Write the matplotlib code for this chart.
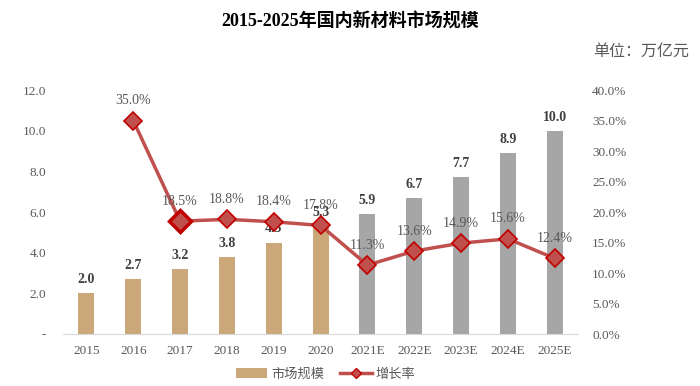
import matplotlib
matplotlib.use("Agg")
import matplotlib.pyplot as plt
from matplotlib.lines import Line2D
from matplotlib.patches import Patch

plt.rcParams['font.family'] = ['Liberation Serif', 'Noto Sans CJK SC', 'DejaVu Sans']

categories = ["2015", "2016", "2017", "2018", "2019", "2020", "2021E", "2022E", "2023E", "2024E", "2025E"]
market = [2.0, 2.7, 3.2, 3.8, 4.5, 5.3, 5.9, 6.7, 7.7, 8.9, 10.0]
growth = [None, 35.0, 18.5, 18.8, 18.4, 17.8, 11.3, 13.6, 14.9, 15.6, 12.4]
left_ticks = [0, 2, 4, 6, 8, 10, 12]
left_labels = ["-", "2.0", "4.0", "6.0", "8.0", "10.0", "12.0"]
right_ticks = [0, 5, 10, 15, 20, 25, 30, 35, 40]

tan = "#CBA879"
gray = "#A6A6A6"
red_line = "#C0504D"
red_edge = "#C00000"
txt = "#595959"

fig = plt.figure(figsize=(7, 3.86), dpi=100)
ax = fig.add_axes([0.09, 0.1347, 0.736, 0.632])
ax2 = ax.twinx()

x = list(range(len(categories)))
colors = [tan if not c.endswith("E") else gray for c in categories]
ax.bar(x, market, width=0.34, color=colors, zorder=2)
for xi, v in zip(x, market):
    ax.text(xi, v + 0.35, f"{v:.1f}", ha="center", va="bottom", fontsize=10,
            fontweight="bold", color="#404040")

ax.set_ylim(0, 12)
ax.set_xlim(-0.5, len(categories) - 0.5)
ax.set_yticks(left_ticks)
ax.set_yticklabels(left_labels, color=txt, fontsize=9.5)
ax.set_xticks(x)
ax.set_xticklabels(categories, color=txt, fontsize=9.5)
ax.tick_params(axis="both", length=0, pad=8)
ax.tick_params(axis="y", pad=12)
for s in ["top", "right", "left"]:
    ax.spines[s].set_visible(False)
ax.spines["bottom"].set_color("#D9D9D9")

gx = [xi for xi, g in zip(x, growth) if g is not None]
gy = [g for g in growth if g is not None]
ax2.plot(gx, gy, color=red_line, lw=2.5, zorder=3)
for xi, g in zip(gx, gy):
    big = (xi == 2)
    ax2.plot(xi, g, marker="D", ms=11 if big else 9, mfc=red_line, mec=red_edge,
             mew=2.5 if big else 1.2, zorder=4)
    ax2.text(xi, g + 2.2, f"{g:.1f}%", ha="center", va="bottom", fontsize=10, color=txt, zorder=5)
ax2.set_ylim(0, 40)
ax2.set_yticks(right_ticks)
ax2.set_yticklabels([f"{t:.1f}%" for t in right_ticks], color=txt, fontsize=9.5)
ax2.tick_params(axis="y", length=0, pad=10)
for s in ["top", "right", "left", "bottom"]:
    ax2.spines[s].set_visible(False)

fig.text(0.5, 0.943, "2015-2025年国内新材料市场规模", ha="center", va="center",
         fontsize=13, fontweight="bold", color="black")
fig.text(0.985, 0.865, "单位：万亿元", ha="right", va="center", fontsize=11.5, color=txt)

handles = [Patch(facecolor=tan, label="市场规模"),
           Line2D([0], [0], color=red_line, lw=2.5, marker="D", ms=5, mfc=red_line,
                  mec=red_edge, label="增长率")]
fig.legend(handles=handles, loc="center", bbox_to_anchor=(0.465, 0.03), ncol=2,
           frameon=False, fontsize=9.5, handlelength=2.4, columnspacing=1.2,
           handletextpad=0.3, labelcolor=txt)

fig.savefig("out.png", dpi=100)
